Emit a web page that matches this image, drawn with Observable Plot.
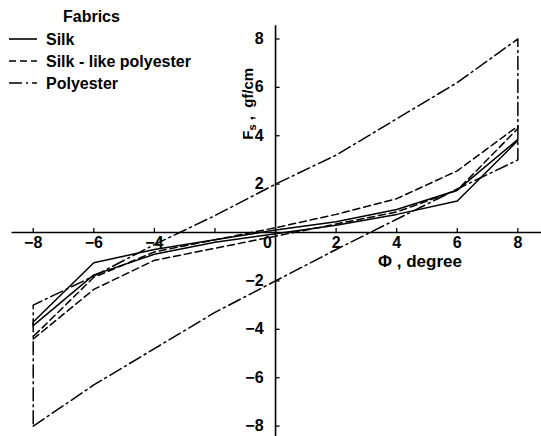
<!DOCTYPE html>
<html>
<head>
<meta charset="utf-8">
<script src="https://cdn.jsdelivr.net/npm/d3@7"></script>
<script src="https://cdn.jsdelivr.net/npm/@observablehq/plot@0.6"></script>
<style>
  html, body { margin: 0; padding: 0; background: #fff; }
  #wrap { position: relative; width: 541px; height: 436px; }
  #wrap svg { position: absolute; left: 0; top: 0; }
</style>
</head>
<body>
<div id="wrap"></div>
<script>
// ---- data ----
const angles = [-8, -6, -4, -2, 0, 2, 4, 6, 8];
// lower branch (going -8 -> 8) and upper branch (returning 8 -> -8), listed by ascending angle
const silkLower = [-3.85, -1.75, -0.9, -0.4, -0.05, 0.3, 0.75, 1.3, 3.8];
const silkUpper = [-3.7, -1.25, -0.7, -0.3, 0.1, 0.45, 0.95, 1.75, 3.85];
const silkLikeLower = [-4.4, -2.35, -1.15, -0.65, -0.15, 0.35, 0.85, 1.75, 4.3];
const silkLikeUpper = [-4.3, -1.85, -0.8, -0.3, 0.2, 0.75, 1.4, 2.55, 4.4];
const polyLower = [-8.0, -6.3, -4.8, -3.3, -2.0, -0.7, 0.55, 1.8, 3.0];
const polyUpper = [-3.0, -1.8, -0.5, 0.7, 2.0, 3.2, 4.7, 6.2, 8.0];
const fabrics = ["Silk", "Silk - like polyester", "Polyester"];
const xTicks = [-8, -6, -4, -2, 0, 2, 4, 6, 8];
const xTickLabels = ["−8", "−6", "−4", "", "0", "2", "4", "6", "8"];
const yTicks = [-8, -6, -4, -2, 2, 4, 6, 8];
const yTickLabels = ["−8", "−6", "−4", "−2", "2", "4", "6", "8"];
const legendTitle = "Fabrics";
const xLabel = "Φ , degree";
const yLabelMain = "F", yLabelSub = "s", yLabelUnit = " ,  gf/cm";

// closed hysteresis loop: lower branch up, then upper branch back, close
function loop(lower, upper) {
  const pts = angles.map((a, i) => ({x: a, y: lower[i]}));
  for (let i = angles.length - 1; i >= 0; i--) pts.push({x: angles[i], y: upper[i]});
  pts.push({x: angles[0], y: lower[0]});
  return pts;
}
const silk = loop(silkLower, silkUpper);
const silkLike = loop(silkLikeLower, silkLikeUpper);
const poly = loop(polyLower, polyUpper);

const font = "'Liberation Sans', Arial, sans-serif";
const xt = xTicks.map((v, i) => ({v, label: xTickLabels[i]}));
const yt = yTicks.map((v, i) => ({v, label: yTickLabels[i]}));

const chart = Plot.plot({
  width: 541,
  height: 436,
  marginLeft: 0, marginRight: 0, marginTop: 0, marginBottom: 0,
  x: {domain: [-9.08, 8.78], axis: null},
  y: {domain: [-8.43, 9.59], axis: null},
  style: {background: "#fff", fontFamily: font},
  marks: [
    // axis lines through the origin
    Plot.ruleY([0], {x1: -8.7, x2: 8.78, stroke: "#000", strokeWidth: 1.6}),
    Plot.ruleX([0], {y1: -8.43, y2: 8.55, stroke: "#000", strokeWidth: 1.6}),
    // ticks
    Plot.ruleX(xt, {x: "v", y1: 0, y2: 0.17, stroke: "#000", strokeWidth: 1.3}),
    Plot.ruleY(yt, {y: "v", x1: 0, x2: 0.15, stroke: "#000", strokeWidth: 1.3}),
    // tick labels
    Plot.text(xt.filter(d => d.v !== 0), {x: "v", y: 0, text: "label", dy: 10, fontSize: 16, fontWeight: "bold", fill: "#000"}),
    Plot.text(xt.filter(d => d.v === 0), {x: "v", y: 0, text: "label", dy: 10, dx: -8, fontSize: 16, fontWeight: "bold", fill: "#000"}),
    Plot.text(yt, {x: 0, y: "v", text: "label", dx: -12, textAnchor: "end", fontSize: 16, fontWeight: "bold", fill: "#000"}),
    // loops
    Plot.line(silk, {x: "x", y: "y", stroke: "#000", strokeWidth: 1.5, curve: "linear"}),
    Plot.line(silkLike, {x: "x", y: "y", stroke: "#000", strokeWidth: 1.5, strokeDasharray: "7,4", curve: "linear"}),
    Plot.line(poly, {x: "x", y: "y", stroke: "#000", strokeWidth: 1.5, strokeDasharray: "13,4,2,4", curve: "linear"})
  ]
});
document.getElementById("wrap").appendChild(chart);

// axis titles positioned from the scales
const sx = chart.scale("x"), sy = chart.scale("y");
const svg = d3.select(chart);
const x0 = sx.apply(0), y0 = sy.apply(0);
svg.append("text")
  .attr("x", x0 + 145).attr("y", y0 + 35)
  .attr("text-anchor", "middle")
  .attr("font-family", font).attr("font-size", 17).attr("font-weight", "bold")
  .text(xLabel);
const yl = svg.append("text")
  .attr("transform", `translate(${x0 - 22},${sy.apply(5.3)}) rotate(-90)`)
  .attr("text-anchor", "middle")
  .attr("font-family", font).attr("font-size", 15).attr("font-weight", "bold");
yl.append("tspan").text(yLabelMain);
yl.append("tspan").attr("font-size", 11).attr("dy", 3).text(yLabelSub);
yl.append("tspan").attr("dy", -3).text(yLabelUnit);

// legend
const leg = svg.append("g").attr("font-family", font).attr("font-weight", "bold")
  .attr("font-size", 16).attr("text-anchor", "start");
leg.append("text").attr("x", 63).attr("y", 22).text(legendTitle);
const dashes = [null, "7,4", "13,4,2,4"];
fabrics.forEach((f, i) => {
  const yy = 39 + i * 22;
  leg.append("line").attr("x1", 9).attr("x2", 37).attr("y1", yy).attr("y2", yy)
    .attr("stroke", "#000").attr("stroke-width", 1.6)
    .attr("stroke-dasharray", dashes[i]);
  leg.append("text").attr("x", 46).attr("y", yy + 6).text(f);
});
</script>
</body>
</html>
